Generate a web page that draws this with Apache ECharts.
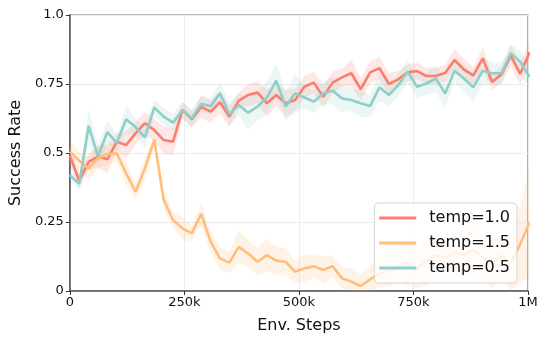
<!DOCTYPE html>
<html>
<head>
<meta charset="utf-8">
<script src="https://cdn.jsdelivr.net/npm/echarts@6/dist/echarts.min.js"></script>
<style>
  html, body { margin: 0; padding: 0; background: #fff; }
  #chart { width: 548px; height: 343px; }
</style>
</head>
<body>
<div id="chart"></div>
<script>
// env steps of each evaluation point
const steps = [0, 20480, 40960, 61440, 81920, 102400, 122880, 143360, 163840, 184320,
  204800, 225280, 245760, 266240, 286720, 307200, 327680, 348160, 368640, 389120,
  409600, 430080, 450560, 471040, 491520, 512000, 532480, 552960, 573440, 593920,
  614400, 634880, 655360, 675840, 696320, 716800, 737280, 757760, 778240, 798720,
  819200, 839680, 860160, 880640, 901120, 921600, 942080, 962560, 983040, 1003520]

const temp10 = [0.49, 0.40, 0.468, 0.487, 0.477, 0.541, 0.529, 0.571, 0.608, 0.583,
  0.547, 0.541, 0.656, 0.622, 0.667, 0.65, 0.684, 0.632, 0.69, 0.71,
  0.719, 0.68, 0.71, 0.68, 0.692, 0.74, 0.755, 0.704, 0.755, 0.774,
  0.789, 0.731, 0.792, 0.807, 0.75, 0.767, 0.792, 0.797, 0.779, 0.779,
  0.79, 0.837, 0.802, 0.781, 0.843, 0.757, 0.785, 0.853, 0.787, 0.865]
const temp10Spread = [0.03, 0.03, 0.03, 0.04, 0.05, 0.03, 0.05, 0.04, 0.04, 0.04,
  0.05, 0.05, 0.03, 0.03, 0.04, 0.04, 0.04, 0.04, 0.03, 0.04,
  0.04, 0.05, 0.04, 0.05, 0.04, 0.04, 0.04, 0.04, 0.04, 0.03,
  0.05, 0.04, 0.04, 0.04, 0.04, 0.03, 0.03, 0.03, 0.03, 0.03,
  0.03, 0.04, 0.04, 0.03, 0.04, 0.03, 0.03, 0.04, 0.04, 0.04]

const temp15 = [0.505, 0.472, 0.444, 0.481, 0.496, 0.499, 0.426, 0.36, 0.444, 0.547,
  0.33, 0.257, 0.227, 0.209, 0.28, 0.179, 0.118, 0.103, 0.16, 0.136,
  0.106, 0.13, 0.11, 0.106, 0.07, 0.082, 0.09, 0.076, 0.09, 0.046,
  0.034, 0.018, 0.042, 0.062, 0.075, 0.09, 0.10, 0.08, 0.11, 0.13,
  0.12, 0.14, 0.13, 0.15, 0.12, 0.10, 0.13, 0.10, 0.17, 0.25]
const temp15Spread = [0.04, 0.03, 0.04, 0.04, 0.04, 0.03, 0.04, 0.03, 0.04, 0.02,
  0.03, 0.03, 0.04, 0.03, 0.04, 0.04, 0.04, 0.04, 0.06, 0.05,
  0.05, 0.06, 0.05, 0.05, 0.04, 0.05, 0.04, 0.05, 0.04, 0.04,
  0.05, 0.04, 0.05, 0.05, 0.06, 0.06, 0.08, 0.07, 0.09, 0.08,
  0.07, 0.08, 0.08, 0.09, 0.08, 0.09, 0.08, 0.10, 0.14, 0.20]

const temp05 = [0.42, 0.388, 0.598, 0.489, 0.576, 0.537, 0.622, 0.594, 0.557, 0.665,
  0.632, 0.61, 0.656, 0.626, 0.678, 0.669, 0.716, 0.641, 0.674, 0.646,
  0.668, 0.701, 0.762, 0.668, 0.716, 0.701, 0.686, 0.716, 0.726, 0.698,
  0.692, 0.68, 0.67, 0.738, 0.71, 0.746, 0.795, 0.74, 0.752, 0.77,
  0.716, 0.798, 0.77, 0.738, 0.798, 0.789, 0.789, 0.861, 0.831, 0.775]
const temp05Spread = [0.02, 0.02, 0.06, 0.04, 0.04, 0.03, 0.05, 0.03, 0.04, 0.03,
  0.03, 0.03, 0.03, 0.03, 0.03, 0.03, 0.04, 0.04, 0.04, 0.06,
  0.05, 0.06, 0.06, 0.05, 0.07, 0.04, 0.04, 0.04, 0.05, 0.05,
  0.04, 0.05, 0.04, 0.05, 0.04, 0.04, 0.04, 0.04, 0.04, 0.05,
  0.05, 0.04, 0.05, 0.05, 0.05, 0.04, 0.04, 0.03, 0.04, 0.04]

const xTicks = { 0: '0', 250000: '250k', 500000: '500k', 750000: '750k', 1000000: '1M' }
const yTicks = { 0: '0', 0.25: '0.25', 0.5: '0.5', 0.75: '0.75', 1: '1.0' }

const FONT = 'DejaVu Sans'

// 阴影带: 用 custom 系列画一个多边形 (坐标走 api.coord)
const bandSeries = (name, values, spread, color) => ({
  name: name + '_band',
  type: 'custom',
  silent: true,
  clip: true,
  data: values.map((v, i) => [steps[i], Math.max(0, v - spread[i]), v + spread[i]]),
  encode: { x: 0, y: [1, 2] },
  renderItem: (params, api) => {
    if (params.dataIndex !== 0) return
    const rows = values.map((v, i) => [steps[i], Math.max(0, v - spread[i]), v + spread[i]])
    const upper = rows.map(r => api.coord([r[0], r[2]]))
    const lower = rows.map(r => api.coord([r[0], r[1]])).reverse()
    return {
      type: 'polygon',
      shape: { points: upper.concat(lower) },
      style: { fill: color, opacity: 0.18 }
    }
  }
})

const lineSeries = (name, values, color) => ({
  name: name,
  type: 'line',
  data: values.map((v, i) => [steps[i], v]),
  symbol: 'none',
  itemStyle: { color: color },
  lineStyle: { color: color, width: 2.6 }
})

const chart = echarts.init(document.getElementById('chart'), null, { renderer: 'canvas' })

chart.setOption({
  animation: false,
  textStyle: { fontFamily: FONT },
  grid: {
    left: 68, right: 20, top: 15, bottom: 52,
    show: true, borderColor: '#777', borderWidth: 1.2
  },
  legend: {
    data: ['temp=1.0', 'temp=1.5', 'temp=0.5'],
    orient: 'vertical',
    right: 31, top: 203,
    icon: 'rect', itemWidth: 37, itemHeight: 3, itemGap: 9,
    padding: [7, 7, 7, 5],
    backgroundColor: 'rgba(255,255,255,0.8)',
    borderColor: '#d6d6d6', borderWidth: 1, borderRadius: 4,
    textStyle: { fontFamily: FONT, fontSize: 16, color: '#111', padding: [0, 0, 0, 8] }
  },
  xAxis: {
    type: 'value', min: 0, max: 1000000, interval: 250000,
    name: 'Env. Steps', nameLocation: 'middle', nameGap: 27,
    nameTextStyle: { fontFamily: FONT, fontSize: 16, color: '#111' },
    axisLine: { lineStyle: { color: '#555', width: 1.5 } },
    axisTick: { show: true, length: 4, lineStyle: { color: '#333' } },
    axisLabel: { fontFamily: FONT, fontSize: 13, color: '#111', margin: 5, formatter: v => xTicks[v] },
    splitLine: { lineStyle: { color: '#ececec' } }
  },
  yAxis: {
    type: 'value', min: 0, max: 1, interval: 0.25,
    name: 'Success Rate', nameLocation: 'middle', nameGap: 37,
    nameTextStyle: { fontFamily: FONT, fontSize: 16, color: '#111' },
    axisLine: { show: true, lineStyle: { color: '#555', width: 1.5 } },
    axisTick: { show: true, length: 4, lineStyle: { color: '#333' } },
    axisLabel: { fontFamily: FONT, fontSize: 13, color: '#111', margin: 6, formatter: v => yTicks[v] },
    splitLine: { lineStyle: { color: '#ececec' } }
  },
  series: [
    bandSeries('temp=1.0', temp10, temp10Spread, '#FA7F6F'),
    bandSeries('temp=1.5', temp15, temp15Spread, '#FFBE7A'),
    bandSeries('temp=0.5', temp05, temp05Spread, '#8ECFC9'),
    lineSeries('temp=1.0', temp10, '#FA7F6F'),
    lineSeries('temp=1.5', temp15, '#FFBE7A'),
    lineSeries('temp=0.5', temp05, '#8ECFC9')
  ]
})
</script>
</body>
</html>
